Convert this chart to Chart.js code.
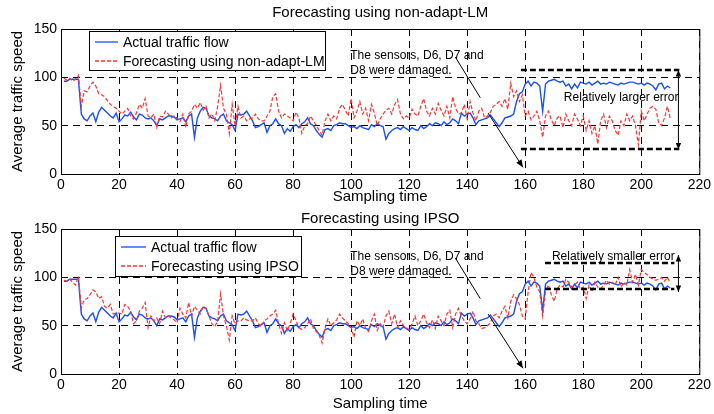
<!DOCTYPE html>
<html>
<head>
<meta charset="utf-8">
<script src="https://cdn.jsdelivr.net/npm/chart.js@4.4.0/dist/chart.umd.min.js"></script>
<style>
  body { margin: 0; background: #fff; }
  .panel { position: absolute; left: 0; width: 714px; height: 207px; }
</style>
</head>
<body>
<div class="panel" style="top:0"><canvas id="lmChart" width="714" height="207"></canvas></div>
<div class="panel" style="top:207px"><canvas id="ipsoChart" width="714" height="207"></canvas></div>
<script>
// values, sampling time 1..210
const actualFlow = [
  96,96,98,98,98,98,62,57,55,60,
  63,54,64,69,66,63,60,58,63,54,
  57,61,60,64,59,56,62,61,58,57,
  58,55,50,57,56,58,60,60,59,56,
  57,58,54,60,62,38,58,65,69,68,
  60,58,57,55,60,62,55,53,51,45,
  62,61,62,65,60,55,48,49,51,53,
  43,50,52,57,52,50,42,47,44,49,
  51,48,52,54,58,52,50,45,41,38,
  46,47,45,50,51,53,52,52,50,48,
  49,47,50,48,47,46,51,49,52,50,
  49,36,42,45,47,48,46,49,47,45,
  48,46,45,50,47,49,52,50,53,52,
  50,54,51,53,57,55,52,63,60,62,
  63,58,51,55,56,57,58,61,57,53,
  49,53,58,59,60,62,75,83,85,93,
  96,91,95,94,91,65,93,96,97,98,
  96,95,96,91,93,88,93,89,95,94,
  93,95,92,94,96,93,94,93,95,94,
  93,92,94,93,94,95,95,94,93,94,
  92,94,93,91,87,93,94,88,91,89
];

const lmForecast = [
  99,97,99,96,98,102,70,86,85,91,
  95,91,83,82,80,76,72,70,68,65,
  62,65,68,60,57,63,72,68,78,60,
  58,62,48,60,59,65,62,58,60,58,
  54,62,48,62,65,72,68,74,66,70,
  58,62,55,70,92,68,62,42,72,50,
  70,58,60,55,57,58,62,57,55,55,
  60,65,80,83,65,58,62,60,58,55,
  64,58,42,50,52,60,55,50,45,40,
  55,62,55,60,57,68,72,66,60,78,
  58,65,75,62,68,55,72,63,50,57,
  62,66,68,62,72,77,62,57,60,58,
  67,62,60,70,78,65,60,68,62,73,
  66,60,70,58,80,68,62,63,72,57,
  75,63,55,65,68,58,60,64,70,72,
  75,70,78,67,94,80,86,75,82,60,
  65,56,60,65,55,38,60,65,56,50,
  58,60,48,62,55,50,62,57,50,60,
  45,55,42,50,31,55,62,48,60,55,
  45,40,55,50,62,55,60,50,30,65,
  55,62,68,70,67,53,50,58,70,57
];

const ipsoForecast = [
  97,96,98,95,92,101,68,77,78,82,
  87,85,78,80,70,68,72,62,63,63,
  62,72,70,65,52,55,65,68,74,48,
  60,55,58,52,65,58,60,58,56,53,
  68,62,58,74,60,70,66,62,70,68,
  60,52,49,55,83,60,50,35,60,52,
  55,55,58,56,55,55,58,52,49,55,
  57,60,62,66,52,42,53,45,52,62,
  55,48,46,48,52,57,47,44,40,32,
  47,57,50,53,56,62,58,55,52,48,
  38,55,50,57,47,44,55,62,45,52,
  48,60,65,52,62,48,55,50,48,46,
  52,60,50,55,62,53,48,56,47,60,
  55,50,62,66,48,62,68,60,55,52,
  57,65,55,52,47,48,50,53,60,62,
  58,65,70,58,75,82,78,72,60,57,
  85,105,100,90,85,60,85,92,82,75,
  88,92,90,98,95,90,92,95,88,90,
  78,92,85,95,90,88,92,97,93,95,
  92,100,90,95,92,108,95,103,92,108,
  105,103,100,98,97,98,100,96,100,94
];

const xTicks = [0, 20, 40, 60, 80, 100, 120, 140, 160, 180, 200, 220];
const yTicks = [0, 50, 100, 150];

const FONT = "'Liberation Sans', Arial, Helvetica, sans-serif";
const BLUE = '#1a4dff';
const RED = '#ff3333';

function toPoints(vals) {
  return vals.map((v, i) => ({ x: i + 1, y: v }));
}

function arrowHead(ctx, x1, y1, x2, y2, size) {
  const a = Math.atan2(y2 - y1, x2 - x1);
  ctx.beginPath();
  ctx.moveTo(x2, y2);
  ctx.lineTo(x2 - size * Math.cos(a - 0.4), y2 - size * Math.sin(a - 0.4));
  ctx.lineTo(x2 - size * Math.cos(a + 0.4), y2 - size * Math.sin(a + 0.4));
  ctx.closePath();
  ctx.fill();
}

// box, title, legend and the text/arrow notes
const decorPlugin = {
  id: 'decor',
  afterDraw(chart, args, o) {
    const ctx = chart.ctx;
    const a = chart.chartArea;
    const xs = chart.scales.x, ys = chart.scales.y;
    const px = v => xs.getPixelForValue(v);
    const py = v => ys.getPixelForValue(v);
    ctx.save();
    ctx.setLineDash([]);
    ctx.strokeStyle = '#000';
    ctx.lineWidth = 1;
    ctx.strokeRect(a.left + 0.5, a.top + 0.5, a.right - a.left, a.bottom - a.top);

    // title
    ctx.fillStyle = '#000';
    ctx.font = '15px ' + FONT;
    ctx.textAlign = 'center';
    ctx.textBaseline = 'middle';
    ctx.fillText(o.title, (a.left + a.right) / 2, o.titleY);

    // legend
    const lg = o.legend;
    ctx.fillStyle = '#fff';
    ctx.fillRect(lg.x, lg.y, lg.w, lg.h);
    ctx.strokeStyle = '#000';
    ctx.lineWidth = 1;
    ctx.strokeRect(lg.x + 0.5, lg.y + 0.5, lg.w, lg.h);
    ctx.font = '14px ' + FONT;
    ctx.textAlign = 'left';
    ctx.fillStyle = '#000';
    const rows = [[BLUE, [], 'Actual traffic flow'], [RED, [4, 2], o.forecastLabel]];
    rows.forEach((r, i) => {
      const yy = lg.y + 11 + i * 19;
      ctx.strokeStyle = r[0];
      ctx.lineWidth = 1.3;
      ctx.setLineDash(r[1]);
      ctx.beginPath();
      ctx.moveTo(lg.x + 6, yy);
      ctx.lineTo(lg.x + lg.lineW, yy);
      ctx.stroke();
      ctx.setLineDash([]);
      ctx.fillText(r[2], lg.x + lg.lineW + 5, yy + 1);
    });

    // sensor note
    ctx.font = '12px ' + FONT;
    ctx.fillText('The sensors, D6, D7 and', px(99.7), py(o.noteY[0]));
    ctx.fillText('D8 were damaged.', px(99.7), py(o.noteY[1]));
    ctx.strokeStyle = '#000';
    ctx.lineWidth = 1;
    ctx.beginPath();
    ctx.moveTo(px(135.9), py(o.noteY[0] - 1));
    ctx.lineTo(px(144.5), py(o.noteY[0] - 43));
    ctx.moveTo(px(147.2), py(o.noteY[0] - 59));
    ctx.lineTo(px(159.2), py(o.noteY[0] - 115));
    ctx.stroke();
    ctx.fillStyle = '#000';
    arrowHead(ctx, px(147.2), py(o.noteY[0] - 59), px(159.2), py(o.noteY[0] - 115), 8);

    // error band
    const e = o.err;
    ctx.lineWidth = 2.5;
    ctx.setLineDash([6, 3]);
    ctx.beginPath();
    ctx.moveTo(px(e.x0), py(e.yHi));
    ctx.lineTo(px(e.x1), py(e.yHi));
    ctx.moveTo(px(e.x0), py(e.yLo));
    ctx.lineTo(px(e.x1), py(e.yLo));
    ctx.stroke();
    ctx.setLineDash([]);
    ctx.lineWidth = 1;
    ctx.beginPath();
    ctx.moveTo(px(212.8), py(e.aHi));
    ctx.lineTo(px(212.8), py(e.aLo));
    ctx.stroke();
    arrowHead(ctx, px(212.8), py(e.aLo), px(212.8), py(e.aHi), 7);
    arrowHead(ctx, px(212.8), py(e.aHi), px(212.8), py(e.aLo), 7);
    ctx.font = '12px ' + FONT;
    ctx.textAlign = 'left';
    ctx.textBaseline = 'middle';
    ctx.fillText(e.text, px(e.tx), py(e.ty));
    ctx.restore();
  }
};

function makeChart(id, forecast, o) {
  const ctx = document.getElementById(id).getContext('2d');
  return new Chart(ctx, {
    type: 'line',
    data: {
      datasets: [
        {
          label: o.forecastLabel,
          data: toPoints(forecast),
          borderColor: RED,
          borderWidth: 1.2,
          borderDash: [4, 2],
          pointRadius: 0,
          order: 1
        },
        {
          label: 'Actual traffic flow',
          data: toPoints(actualFlow),
          borderColor: BLUE,
          borderWidth: 1.4,
          pointRadius: 0,
          order: 2
        }
      ]
    },
    options: {
      responsive: false,
      animation: false,
      layout: { padding: { top: o.top, right: 12, left: 0, bottom: 0 } },
      plugins: {
        legend: { display: false },
        tooltip: { enabled: false },
        decor: o
      },
      scales: {
        x: {
          type: 'linear',
          min: 0,
          max: 220,
          afterBuildTicks: s => { s.ticks = xTicks.map(v => ({ value: v })); },
          afterFit: s => { s.height = 207 - o.bottom; },
          ticks: { color: '#000', font: { family: FONT, size: 14 }, padding: 3, maxRotation: 0 },
          grid: { color: '#000', lineWidth: 1, drawTicks: false },
          border: { display: false, dash: [7, 5] },
          title: { display: true, text: 'Sampling time', color: '#000', font: { family: FONT, size: 15 }, padding: { top: 0, bottom: 1 } }
        },
        y: {
          min: 0,
          max: 150,
          afterBuildTicks: s => { s.ticks = yTicks.map(v => ({ value: v })); },
          afterFit: s => { s.width = 61; },
          ticks: { color: '#000', font: { family: FONT, size: 14 }, padding: 4 },
          grid: { color: '#000', lineWidth: 1, drawTicks: false },
          border: { display: false, dash: [7, 5] },
          title: { display: true, text: 'Average traffic speed', color: '#000', font: { family: FONT, size: 15 }, padding: { top: 9, bottom: 0 } }
        }
      }
    },
    plugins: [decorPlugin]
  });
}

makeChart('lmChart', lmForecast, {
  top: 29, bottom: 174, titleY: 13,
  title: 'Forecasting using non-adapt-LM',
  forecastLabel: 'Forecasting using non-adapt-LM',
  legend: { x: 89, y: 31, w: 236, h: 39, lineW: 29 },
  noteY: [122, 106.5],
  err: { x0: 158.5, x1: 213.1, yHi: 107.5, yLo: 25.9, aHi: 107.5, aLo: 25.5,
         text: 'Relatively larger error', tx: 173.3, ty: 78.6 }
});

makeChart('ipsoChart', ipsoForecast, {
  top: 22, bottom: 167, titleY: 12,
  title: 'Forecasting using IPSO',
  forecastLabel: 'Forecasting using IPSO',
  legend: { x: 115, y: 29, w: 186, h: 40, lineW: 31 },
  noteY: [121, 105.5],
  err: { x0: 166.8, x1: 211.4, yHi: 114.8, yLo: 88.0, aHi: 123, aLo: 84.8,
         text: 'Relatively smaller error', tx: 169.2, ty: 121 }
});
</script>
</body>
</html>
